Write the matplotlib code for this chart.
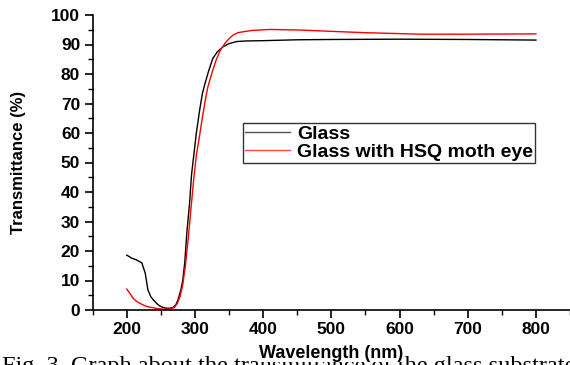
import numpy as np
from matplotlib import pyplot as plt

# values
wl_glass = [200, 207, 214, 222, 227, 231, 235, 239, 244, 248, 253, 258, 263, 268, 272, 275,
            279, 282, 285, 288, 292, 295, 299, 302, 307, 311, 315, 320, 326, 333, 341,
            350, 361, 375, 400, 450, 500, 600, 700, 800]
t_glass = [18.6, 17.6, 17.0, 16.0, 12.5, 6.8, 4.6, 3.4, 2.2, 1.4, 0.9, 0.6, 0.6, 0.9, 1.8, 3.4,
           6.5, 10.0, 16.0, 26.0, 36.0, 46.0, 54.0, 60.0, 68.0, 73.5, 77.0, 81.0, 85.2, 87.6, 89.2,
           90.3, 91.0, 91.2, 91.3, 91.6, 91.7, 91.8, 91.7, 91.5]

wl_hsq = [200, 205, 209, 214, 219, 225, 231, 238, 244, 251, 258, 264, 270, 274, 278, 282,
          286, 290, 294, 298, 302, 306, 310, 315, 319, 325, 331, 337, 344, 350, 356, 363,
          370, 385, 410, 455, 485, 550, 630, 700, 800]
t_hsq = [7.1, 5.5, 4.0, 3.0, 2.3, 1.6, 1.1, 0.8, 0.5, 0.35, 0.3, 0.4, 0.9, 2.2, 4.5, 8.5,
         15.0, 24.0, 34.0, 44.0, 52.5, 58.0, 64.0, 71.0, 75.7, 80.5, 84.7, 88.0, 90.4, 92.0, 93.2, 94.0,
         94.3, 94.8, 95.1, 94.9, 94.6, 94.0, 93.5, 93.5, 93.6]

labels = ["Glass", "Glass with HSQ moth eye"]
caption = "Fig. 3. Graph about the transmittance of the glass substrate"

plt.rcParams['font.family'] = ['Liberation Sans', 'DejaVu Sans']

fig = plt.figure(figsize=(5.7, 3.65), dpi=100)
ax = fig.add_axes([92.7 / 570, 55 / 365, 1 - 92.7 / 570, 295 / 365])

ax.plot(wl_glass, t_glass, color="black", lw=1.0, label=labels[0])
ax.plot(wl_hsq, t_hsq, color="#ff0000", lw=1.0, label=labels[1])

ax.set_xlim(150, 850)
ax.set_ylim(0, 100)
ax.set_xticks([200, 300, 400, 500, 600, 700, 800])
ax.set_xticks([150, 250, 350, 450, 550, 650, 750, 850], minor=True)
ax.set_yticks(np.arange(0, 101, 10))
ax.set_yticks(np.arange(5, 100, 10), minor=True)

for side in ["top", "right"]:
    ax.spines[side].set_visible(False)
for side in ["left", "bottom"]:
    ax.spines[side].set_linewidth(1.2)

ax.tick_params(which="major", direction="out", length=6, width=1.2, pad=3)
ax.tick_params(which="minor", direction="out", length=3.5, width=1.0)
for lab in ax.get_xticklabels() + ax.get_yticklabels():
    lab.set_fontsize(12.5)
    lab.set_fontweight("bold")

ax.set_ylabel("Transmittance (%)", fontsize=12, fontweight="bold", labelpad=18)

leg = ax.legend(loc="upper left", bbox_to_anchor=(0.315, 0.634), borderaxespad=0,
                fancybox=False, frameon=True, edgecolor="black",
                prop={"weight": "bold", "size": 14}, handlelength=2.3,
                handletextpad=0.35, labelspacing=0.0, borderpad=0.12)
leg.get_frame().set_linewidth(1.0)
leg.get_lines()[0].set_color("#555555")
leg.get_lines()[1].set_color("#ff4444")

# caption of the paper, mostly cut off at the bottom edge
fig.text(0.004, 1 - 356 / 365, caption, fontsize=17.5, family="Liberation Serif",
         va="top", ha="left", zorder=1)
fig.text((92.7 + 570) / 2 / 570, 1 - 345 / 365, "Wavelength (nm)", fontsize=13,
         fontweight="bold", ha="center", va="top", zorder=5,
         bbox=dict(facecolor="white", edgecolor="none", pad=0.3))

fig.savefig("out.png", dpi=100)
